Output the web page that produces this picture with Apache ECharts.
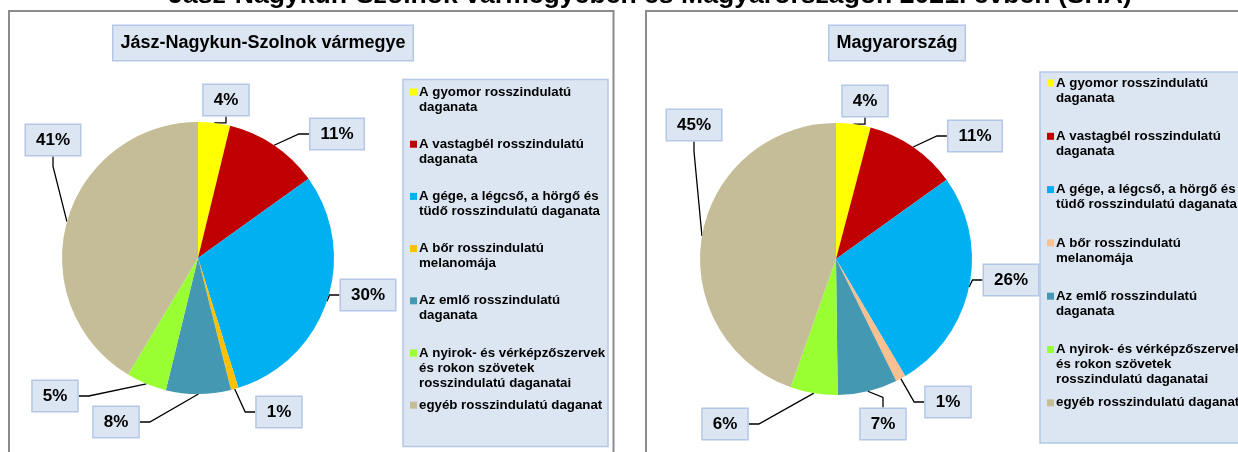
<!DOCTYPE html>
<html>
<head>
<meta charset="UTF-8">
<title></title>
<script src="https://cdn.jsdelivr.net/npm/echarts@6/dist/echarts.min.js"></script>
<style>html,body{margin:0;padding:0;background:#fff;}</style>
</head>
<body>
<div id="chart" style="width:1238px;height:452px;"></div>
<script type="text/javascript">
// kategóriák és megoszlások (%)
var categories = [
	'A gyomor rosszindulatú daganata',
	'A vastagbél rosszindulatú daganata',
	'A gége, a légcső, a hörgő és tüdő rosszindulatú daganata',
	'A bőr rosszindulatú melanomája',
	'Az emlő rosszindulatú daganata',
	'A nyirok- és vérképzőszervek és rokon szövetek rosszindulatú daganatai',
	'egyéb rosszindulatú daganat'
];
// jelmagyarázat sortörésekkel
var legendLines = [
	'A gyomor rosszindulatú\ndaganata',
	'A vastagbél rosszindulatú\ndaganata',
	'A gége, a légcső, a hörgő és\ntüdő rosszindulatú daganata',
	'A bőr rosszindulatú\nmelanomája',
	'Az emlő rosszindulatú\ndaganata',
	'A nyirok- és vérképzőszervek\nés rokon szövetek\nrosszindulatú daganatai',
	'egyéb rosszindulatú daganat'
];
var countyShares = [3.8, 11.3, 30.1, 0.9, 7.7, 4.8, 41.4];
var hungaryShares = [4.1, 11.0, 26.4, 1.2, 7.1, 5.6, 44.6];

var countyColors = ['#FFFF00', '#C00000', '#00B0F0', '#FFC000', '#4598B1', '#99FF33', '#C4BD97'];
var hungaryColors = ['#FFFF00', '#C00000', '#00B0F0', '#FAC090', '#4598B1', '#99FF33', '#C4BD97'];

// címkék helye (a doboz közepe)
var countyLabelAt = [[226, 100], [337, 134], [368, 295], [279, 412], [116, 422], [55, 396], [53, 140]];
var hungaryLabelAt = [[865, 101], [975, 136], [1011, 280], [948, 402], [883, 424], [725, 424], [694, 125]];

var font = 'Liberation Sans, Arial, sans-serif';
var boxFill = '#dce6f2';
var boxLine = '#b4c7e7';

var my_echarts = echarts.init(document.getElementById('chart'));

function pieData(values, colors) {
	return categories.map(function(name, i) {
		return { name: name, value: values[i], itemStyle: { color: colors[i] } };
	});
}

function pieSeries(center, values, colors, labelAt) {
	return {
		type: 'pie',
		center: center,
		radius: 136,
		startAngle: 90,
		clockwise: true,
		avoidLabelOverlap: false,
		silent: true,
		data: pieData(values, colors),
		itemStyle: { borderWidth: 0 },
		label: {
			show: true,
			position: 'outside',
			formatter: function(p) {
				return Math.round(p.value) + '%';
			},
			fontFamily: font,
			fontWeight: 'bold',
			fontSize: 17,
			color: '#000',
			backgroundColor: boxFill,
			borderColor: boxLine,
			borderWidth: 1.5,
			padding: [7, 10, 6, 10]
		},
		labelLine: {
			show: true,
			length: 10,
			length2: 10,
			lineStyle: { color: '#000', width: 1.3 }
		},
		labelLayout: function(params) {
			var p = labelAt[params.dataIndex];
			return { x: p[0], y: p[1], align: 'center', verticalAlign: 'middle' };
		},
		emphasis: { disabled: true }
	};
}

// a színes négyzet a szöveg első sorában áll, minden tétel 3 sor magas
function legendOf(left, top, gap, colors) {
	var rich = {
		t: { fontFamily: font, fontWeight: 'bold', fontSize: 13.3, color: '#000', lineHeight: 15 },
		sp: { width: 9, height: 15, lineHeight: 15 }
	};
	colors.forEach(function(c, i) {
		rich['c' + i] = { backgroundColor: c, width: 7, height: 7, lineHeight: 15 };
	});
	rich.g = { width: 2, height: 15, lineHeight: 15 };
	return {
		orient: 'vertical',
		left: left,
		top: top,
		padding: 0,
		itemGap: gap,
		itemWidth: 0,
		itemHeight: 0,
		selectedMode: false,
		data: categories,
		formatter: function(name) {
			var i = categories.indexOf(name);
			var lines = legendLines[i].split('\n');
			while (lines.length < 3) lines.push('');
			return lines.map(function(l, k) {
				var head = k === 0 ? '{c' + i + '|}{g|}' : '{sp|}';
				return l ? head + '{t|' + l + '}' : '{sp|}';
			}).join('\n');
		},
		textStyle: { lineHeight: 15, rich: rich }
	};
}

function titleBox(text, x) {
	return {
		type: 'text',
		x: x,
		y: 43,
		style: {
			text: text,
			align: 'center',
			verticalAlign: 'middle',
			font: 'bold 18px ' + font,
			fill: '#000',
			backgroundColor: boxFill,
			borderColor: boxLine,
			borderWidth: 1.5,
			padding: [8, 7]
		}
	};
}

var option = {
	animation: false,
	backgroundColor: '#fff',
	graphic: [
		{
			type: 'text',
			x: 650,
			y: -4,
			style: {
				text: 'Jász-Nagykun-Szolnok vármegyében és Magyarországon 2021. évben (SHA)',
				align: 'center',
				verticalAlign: 'middle',
				font: 'bold 26.6px ' + font,
				fill: '#000'
			}
		},
		{
			type: 'rect',
			shape: { x: 9, y: 11, width: 604.5, height: 460 },
			style: { fill: 'none', stroke: '#8c8c8c', lineWidth: 2 }
		},
		{
			type: 'rect',
			shape: { x: 646, y: 11, width: 700, height: 460 },
			style: { fill: 'none', stroke: '#8c8c8c', lineWidth: 2 }
		},
		{
			type: 'rect',
			shape: { x: 403, y: 79.5, width: 205, height: 367 },
			style: { fill: boxFill, stroke: boxLine, lineWidth: 1.5 }
		},
		{
			type: 'rect',
			shape: { x: 1040, y: 72, width: 300, height: 371 },
			style: { fill: boxFill, stroke: boxLine, lineWidth: 1.5 }
		},
		titleBox('Jász-Nagykun-Szolnok vármegye', 263),
		titleBox('Magyarország', 897)
	],
	legend: [
		legendOf(405, 84.5, 7.2, countyColors),
		legendOf(1042, 75.5, 8.3, hungaryColors)
	],
	series: [
		pieSeries([198, 258], countyShares, countyColors, countyLabelAt),
		pieSeries([836, 259], hungaryShares, hungaryColors, hungaryLabelAt)
	]
};
my_echarts.setOption(option);
</script>
</body>
</html>
